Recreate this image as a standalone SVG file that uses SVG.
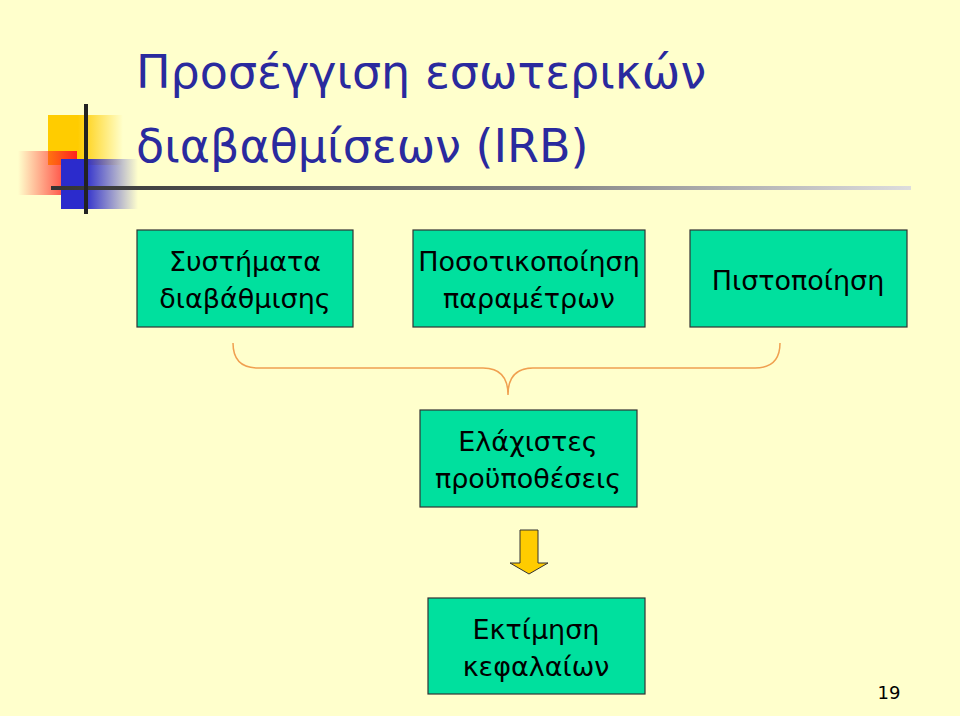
<svg xmlns="http://www.w3.org/2000/svg" width="960" height="716" viewBox="0 0 960 716">
<defs>
<linearGradient id="gy" x1="0" x2="1"><stop offset="0.4" stop-color="#ffcc00"/><stop offset="1" stop-color="#ffcc00" stop-opacity="0"/></linearGradient>
<linearGradient id="gr" x1="1" x2="0"><stop offset="0" stop-color="#ff2020"/><stop offset="1" stop-color="#ff2020" stop-opacity="0"/></linearGradient>
<linearGradient id="gb" x1="0" x2="1"><stop offset="0.3" stop-color="#2b2bcc"/><stop offset="1" stop-color="#2b2bcc" stop-opacity="0"/></linearGradient>
<linearGradient id="gl" x1="0" x2="1"><stop offset="0" stop-color="#333"/><stop offset="0.6" stop-color="#888"/><stop offset="1" stop-color="#ddd"/></linearGradient>
<style>
.box{fill:#00e09e;stroke:#333;stroke-width:1.2}
.t{font-family:"DejaVu Sans",Verdana,sans-serif;font-size:27px;fill:#000;text-anchor:middle}
.title{font-family:"DejaVu Sans",Verdana,sans-serif;font-size:46px;fill:#2a2a9e}
</style>
</defs>
<rect width="960" height="716" fill="#ffffcc"/>
<g id="decor">
<rect x="48" y="115" width="75" height="50" fill="url(#gy)"/>
<rect x="18" y="151" width="59" height="44" fill="url(#gr)"/>
<rect x="61" y="159" width="77" height="50" fill="url(#gb)"/>
<rect x="51" y="186" width="860" height="4" fill="url(#gl)"/>
<rect x="84" y="104" width="4" height="110" fill="#222"/>
</g>
<text class="title" x="136" y="88">Προσέγγιση εσωτερικών</text>
<text class="title" x="136" y="162">διαβαθμίσεων (IRB)</text>
<g id="connectors">
<path d="M233,343 Q233,368 258,368 L483,368 Q508,368 508,395 Q508,368 533,368 L755,368 Q780,368 780,343" fill="none" stroke="#f0a050" stroke-width="1.5"/>
<path d="M520,530 H538 V563 H548 L529,574 L510,563 H520 Z" fill="#ffcc00" stroke="#333" stroke-width="1"/>
</g>
<g id="n1"><rect class="box" x="137" y="230" width="216" height="97"/><text class="t" x="245" y="271">Συστήματα</text><text class="t" x="245" y="308">διαβάθμισης</text></g>
<g id="n2"><rect class="box" x="413" y="230" width="232" height="97"/><text class="t" x="529" y="271">Ποσοτικοποίηση</text><text class="t" x="529" y="308">παραμέτρων</text></g>
<g id="n3"><rect class="box" x="690" y="230" width="217" height="97"/><text class="t" x="798" y="290">Πιστοποίηση</text></g>
<g id="n4"><rect class="box" x="420" y="410" width="217" height="97"/><text class="t" x="528" y="451">Ελάχιστες</text><text class="t" x="528" y="488">προϋποθέσεις</text></g>
<g id="n5"><rect class="box" x="428" y="598" width="217" height="96"/><text class="t" x="536" y="639">Εκτίμηση</text><text class="t" x="536" y="676">κεφαλαίων</text></g>
<text x="889" y="699" font-family="DejaVu Sans,sans-serif" font-size="18" text-anchor="middle">19</text>
</svg>
